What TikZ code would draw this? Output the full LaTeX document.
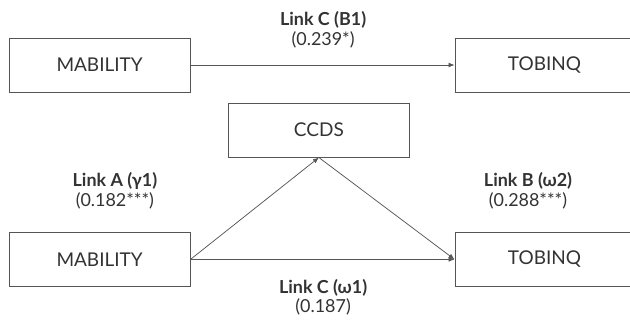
\documentclass[tikz,border=0pt]{standalone}
\usepackage{fontspec}
\setmainfont{Lato}
\usepackage{tikz}
\usetikzlibrary{arrows.meta,positioning}
\definecolor{Ink}{HTML}{333333}
\definecolor{Rule}{HTML}{555555}
\tikzset{
  linkarrow/.style={-{Latex[length=2mm,width=1.6mm]},line width=0.7pt,draw=Rule},
  varbox/.style={rectangle,minimum width=6.03cm,minimum height=1.8cm,draw=Rule,line width=0.8pt,
    fill=white,text=Ink,font=\fontsize{18}{21}\selectfont},
  linklabel/.style={align=center,text=Ink,font=\fontsize{17}{18.5}\selectfont},
}

\begin{document}
\begin{tikzpicture}[x=1cm,y=1cm]
    \useasboundingbox (0,0) rectangle (21,10.667);

    % direct effect
    \node[varbox] (mabTop) at (3.32,8.5) {MABILITY};
    \node[varbox,minimum width=5.97cm] (tobTop) at (18.15,8.5) {TOBINQ};
    \draw[linkarrow] (mabTop.east) -- (tobTop.west);
    \node[linklabel] (linkCtop) at (10.77,9.68) {\textbf{Link C (B1)}\\(0.239*)};

    % mediation
    \node[varbox] (ccds) at (10.63,6.33) {CCDS};
    \node[varbox] (mabBot) at (3.32,2.02) {MABILITY};
    \node[varbox,minimum width=5.97cm] (tobBot) at (18.15,2.02) {TOBINQ};
    \draw[linkarrow] (mabBot.east) -- (ccds.south);
    \draw[linkarrow] (ccds.south) -- (tobBot.west);
    \draw[linkarrow] (mabBot.east) -- (tobBot.west);

    \node[linklabel] (linkA) at (3.83,4.3) {\textbf{Link A (γ1)}\\(0.182***)};
    \node[linklabel] (linkB) at (17.6,4.3) {\textbf{Link B (ω2)}\\(0.288***)};
    \node[linklabel] (linkCbot) at (10.77,0.75) {\textbf{Link C (ω1)}\\(0.187)};
  \end{tikzpicture}
\end{document}
